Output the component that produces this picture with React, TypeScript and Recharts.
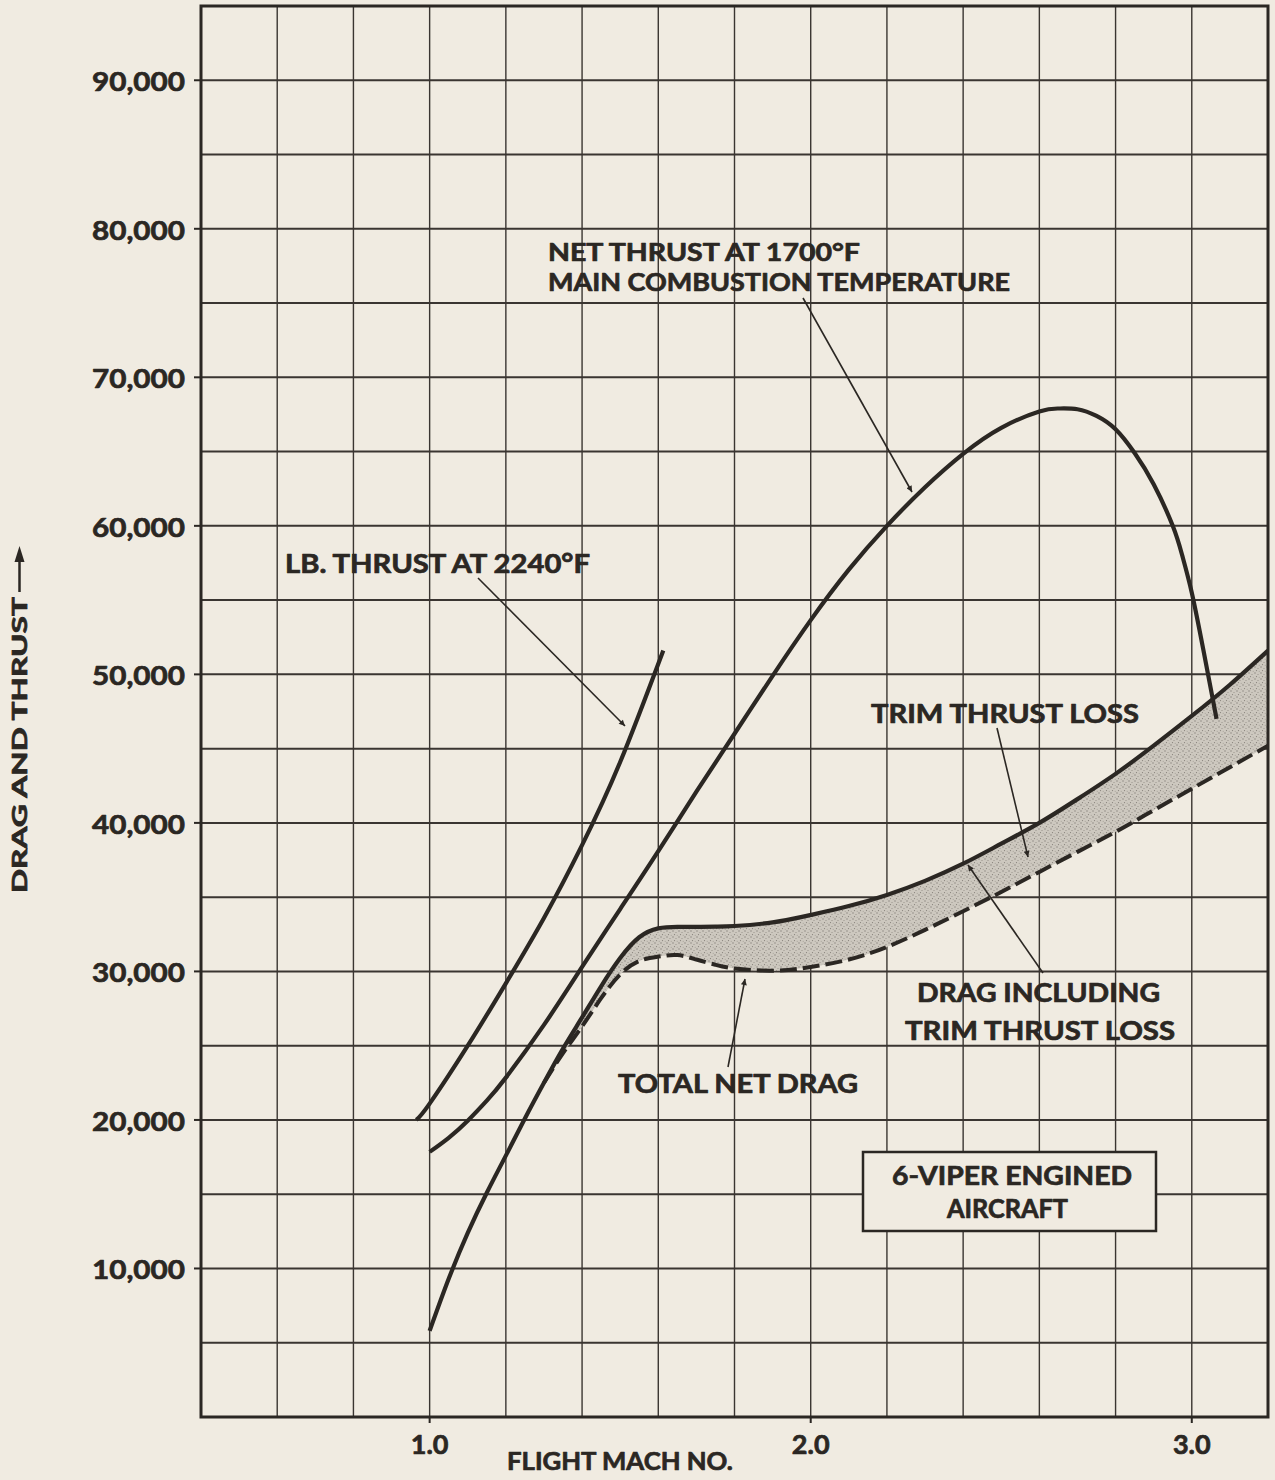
import React from 'react';
import { ComposedChart, Line, Area, XAxis, YAxis, CartesianGrid, ReferenceArea } from 'recharts';

// ---- axis ticks ----
const xTicks = [0.4, 0.6, 0.8, 1.0, 1.2, 1.4, 1.6, 1.8, 2.0, 2.2, 2.4, 2.6, 2.8, 3.0, 3.2];
const xLabelValues = [1, 2, 3];
const xLabelTexts = ['1.0', '2.0', '3.0'];
const yTicks = [0, 5000, 10000, 15000, 20000, 25000, 30000, 35000, 40000, 45000, 50000, 55000, 60000, 65000, 70000, 75000, 80000, 85000, 90000, 95000];
const yLabelValues = [10000, 20000, 30000, 40000, 50000, 60000, 70000, 80000, 90000];
const yLabelTexts = ['10,000', '20,000', '30,000', '40,000', '50,000', '60,000', '70,000', '80,000', '90,000'];

// ---- LB. thrust at 2240°F ----
const thrust2240Mach = [0.965, 1.0, 1.1, 1.2, 1.3, 1.4, 1.5, 1.613];
const thrust2240 = [20000, 21100, 25000, 29200, 33600, 38500, 44100, 51600];

// ---- Net thrust at 1700°F main combustion temperature ----
const thrust1700Mach = [1.0, 1.05, 1.1, 1.15, 1.2, 1.3, 1.4, 1.5, 1.6, 1.7, 1.8, 1.9, 2.0, 2.1, 2.2, 2.3, 2.4, 2.5, 2.6, 2.65, 2.7, 2.75, 2.8, 2.85, 2.9, 2.95, 2.975, 3.0, 3.03, 3.065];
const thrust1700 = [17850, 18800, 19950, 21300, 22850, 26400, 30300, 34200, 38100, 42100, 46000, 49900, 53650, 57050, 60000, 62600, 64850, 66600, 67700, 67900, 67850, 67400, 66500, 64900, 62800, 60000, 58000, 55500, 51700, 47000];

// ---- Drag curves ----
const dragMach = [1.0, 1.05, 1.1, 1.15, 1.2, 1.25, 1.3, 1.35, 1.4, 1.45, 1.5, 1.55, 1.6, 1.65, 1.7, 1.75, 1.8, 1.9, 2.0, 2.1, 2.2, 2.3, 2.4, 2.5, 2.6, 2.7, 2.8, 2.9, 3.0, 3.1, 3.2];
const dragWithTrim = [5800, 9300, 12400, 15100, 17600, 20100, 22500, 24800, 26900, 29000, 30900, 32300, 32900, 33000, 33000, 33020, 33060, 33300, 33800, 34400, 35150, 36100, 37250, 38600, 40000, 41600, 43300, 45200, 47200, 49300, 51600];
const totalNetDrag: (number | null)[] = [null, null, null, null, null, null, 22500, 24500, 26300, 28200, 29800, 30700, 31000, 31100, 30800, 30450, 30200, 30050, 30300, 30800, 31650, 32800, 34050, 35350, 36700, 38050, 39400, 40850, 42300, 43750, 45200];

const curve2240 = thrust2240Mach.map((m, i) => ({ mach: m, v: thrust2240[i] }));
const curve1700 = thrust1700Mach.map((m, i) => ({ mach: m, v: thrust1700[i] }));
const curveDragTrim = dragMach.map((m, i) => ({ mach: m, v: dragWithTrim[i] }));
const curveNetDrag = dragMach
  .map((m, i) => ({ mach: m, v: totalNetDrag[i] }))
  .filter((d) => d.v !== null);
const bandData = dragMach
  .map((m, i) => (totalNetDrag[i] === null ? null : { mach: m, range: [totalNetDrag[i] as number, dragWithTrim[i]] }))
  .filter((d) => d !== null) as { mach: number; range: number[] }[];

const INK = '#2b2723';
const PAPER = '#f0ebe1';
const FONT = 'Lato, "DejaVu Sans", sans-serif';
const BOLDEN = { stroke: INK, strokeWidth: 0.7, strokeLinejoin: 'round' as const };

const XTick = (props: any) => {
  const { x, y, payload } = props;
  const idx = xLabelValues.findIndex((v) => Math.abs(v - payload.value) < 1e-6);
  if (idx < 0) return <g />;
  return (
    <g>
      <line x1={x} x2={x} y1={y} y2={y + 6} stroke={INK} strokeWidth={2} />
      <text x={x} y={y + 37} textAnchor="middle" fontFamily={FONT} fontWeight={700} fontSize={27} fill={INK} {...BOLDEN}>
        {xLabelTexts[idx]}
      </text>
    </g>
  );
};

const YTick = (props: any) => {
  const { x, y, payload } = props;
  const idx = yLabelValues.findIndex((v) => Math.abs(v - payload.value) < 1e-6);
  if (idx < 0) return <g />;
  return (
    <g>
      <line x1={x - 7} x2={x} y1={y} y2={y} stroke={INK} strokeWidth={2} />
      <text x={x - 16} y={y + 11} textAnchor="end" fontFamily={FONT} fontWeight={700} fontSize={27} fill={INK} textLength={93} lengthAdjust="spacingAndGlyphs" {...BOLDEN}>
        {yLabelTexts[idx]}
      </text>
    </g>
  );
};

const T = ({ x, y, w, size = 26, children }: any) => (
  <text x={x} y={y} fontFamily={FONT} fontWeight={700} fontSize={size} fill={INK} textLength={w} lengthAdjust="spacingAndGlyphs" {...BOLDEN}>
    {children}
  </text>
);

const Leader = ({ x1, y1, x2, y2 }: any) => (
  <line x1={x1} y1={y1} x2={x2} y2={y2} stroke={INK} strokeWidth={1.6} markerEnd="url(#ah)" />
);

export default function App() {
  return (
    <div style={{ position: 'absolute', left: 0, top: 0, width: 1275, height: 1480, background: PAPER, overflow: 'hidden' }}>
      <ComposedChart width={1275} height={1480} margin={{ top: 6, right: 7, left: 0, bottom: 0 }}>
        <defs>
          <pattern id="stipple" width="6" height="6" patternUnits="userSpaceOnUse">
            <rect width="6" height="6" fill="#cdc8bf" />
            <circle cx="1" cy="1" r="0.7" fill="#858079" />
            <circle cx="4" cy="2.5" r="0.6" fill="#948f87" />
            <circle cx="2.5" cy="4.6" r="0.6" fill="#858079" />
            <circle cx="5.2" cy="5.2" r="0.5" fill="#9c978f" />
          </pattern>
        </defs>
        <CartesianGrid horizontal={true} vertical={false} stroke="#3a3531" strokeWidth={2} />
        <CartesianGrid horizontal={false} vertical={true} stroke="#3a3531" strokeWidth={1.4} />
        <XAxis
          type="number"
          dataKey="mach"
          domain={[0.4, 3.2]}
          ticks={xTicks}
          interval={0}
          allowDataOverflow
          height={63}
          tickSize={0}
          tickMargin={0}
          tickLine={false}
          axisLine={false}
          tick={(p: any) => <XTick {...p} />}
        />
        <YAxis
          type="number"
          domain={[0, 95000]}
          ticks={yTicks}
          interval={0}
          allowDataOverflow
          width={201}
          tickSize={0}
          tickMargin={0}
          tickLine={false}
          axisLine={false}
          tick={(p: any) => <YTick {...p} />}
        />
        <Area data={bandData} dataKey="range" type="natural" fill="url(#stipple)" fillOpacity={1} stroke="none" isAnimationActive={false} />
        <Line data={curveNetDrag} dataKey="v" type="natural" stroke={INK} strokeWidth={4} strokeDasharray="17 6" dot={false} isAnimationActive={false} />
        <Line data={curveDragTrim} dataKey="v" type="natural" stroke={INK} strokeWidth={4.2} dot={false} isAnimationActive={false} />
        <Line data={curve1700} dataKey="v" type="natural" stroke={INK} strokeWidth={4.2} dot={false} isAnimationActive={false} />
        <Line data={curve2240} dataKey="v" type="natural" stroke={INK} strokeWidth={4.2} dot={false} isAnimationActive={false} />
        <ReferenceArea x1={0.4} x2={3.2} y1={0} y2={95000} fill="none" stroke={INK} strokeWidth={3} ifOverflow="visible" />
      </ComposedChart>
      <svg style={{ position: 'absolute', left: 0, top: 0 }} width={1275} height={1480}>
        <defs>
          <marker id="ah" viewBox="0 0 10 10" refX="10" refY="5" markerWidth="12" markerHeight="6" markerUnits="userSpaceOnUse" orient="auto">
            <path d="M0,0 L10,5 L0,10 z" fill={INK} />
          </marker>
        </defs>
        {/* Y axis title */}
        <text transform="translate(27,745) rotate(-90)" textAnchor="middle" fontFamily={FONT} fontWeight={700} fontSize={21} fill={INK} textLength={296} lengthAdjust="spacingAndGlyphs" {...BOLDEN}>
          DRAG AND THRUST
        </text>
        <line x1={19.5} y1={592} x2={19.5} y2={560} stroke={INK} strokeWidth={2.5} />
        <path d="M19.5,546 L14.5,562 L24.5,562 z" fill={INK} />
        {/* X axis title */}
        <T x={507} y={1470} w={226} size={25}>FLIGHT MACH NO.</T>
        {/* annotations */}
        <T x={548} y={261} w={312} size={25}>NET THRUST AT 1700°F</T>
        <T x={548} y={291} w={462} size={25}>MAIN COMBUSTION TEMPERATURE</T>
        <Leader x1={803} y1={298} x2={912} y2={492} />
        <T x={285} y={573} w={305}>LB. THRUST AT 2240°F</T>
        <Leader x1={478} y1={578} x2={625} y2={726} />
        <T x={871} y={723} w={268}>TRIM THRUST LOSS</T>
        <Leader x1={997} y1={728} x2={1028} y2={857} />
        <T x={917} y={1002} w={243}>DRAG INCLUDING</T>
        <T x={905} y={1040} w={270}>TRIM THRUST LOSS</T>
        <Leader x1={1043} y1={973} x2={968} y2={865} />
        <T x={618} y={1093} w={240}>TOTAL NET DRAG</T>
        <Leader x1={728} y1={1067} x2={745} y2={979} />
        {/* box */}
        <rect x={863} y={1152} width={293} height={79} fill={PAPER} stroke={INK} strokeWidth={2.5} />
        <T x={892} y={1185} w={240}>6-VIPER ENGINED</T>
        <T x={947} y={1218} w={121}>AIRCRAFT</T>
      </svg>
    </div>
  );
}
